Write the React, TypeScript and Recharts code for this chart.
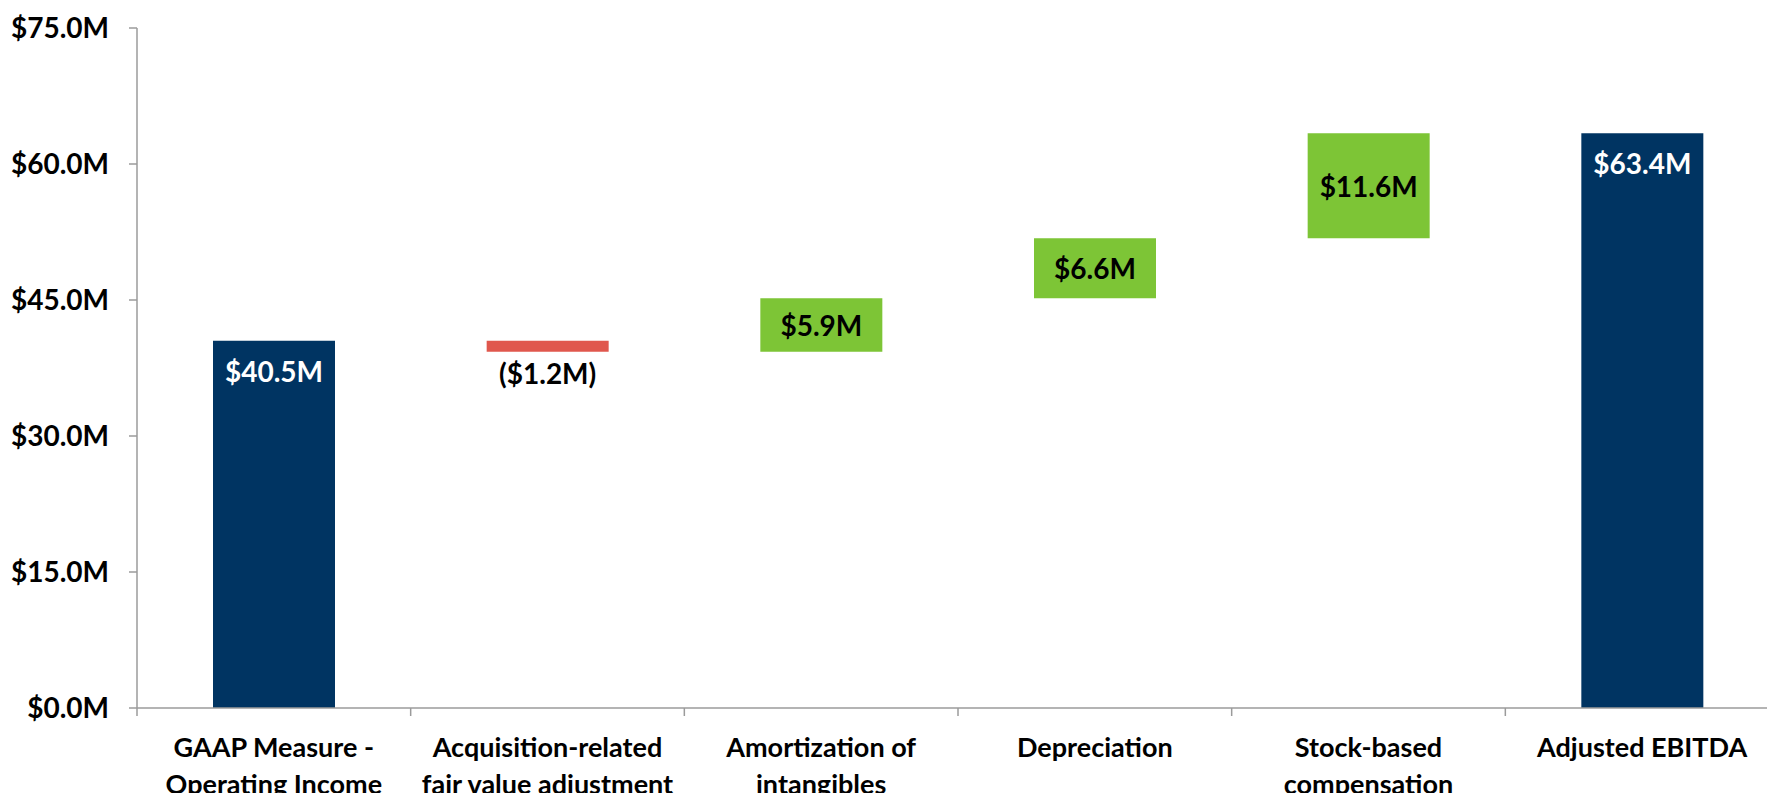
import { BarChart, Bar, XAxis, YAxis, Cell, LabelList } from 'recharts'

// Operating income to Adjusted EBITDA bridge, $M
const categories = [
  'GAAP Measure - Operating Income',
  'Acquisition-related fair value adjustment',
  'Amortization of intangibles',
  'Depreciation',
  'Stock-based compensation',
  'Adjusted EBITDA',
]

// how each category name breaks under the axis
const categoryLines = [
  ['GAAP Measure -', 'Operating Income'],
  ['Acquisition-related', 'fair value adjustment'],
  ['Amortization of', 'intangibles'],
  ['Depreciation'],
  ['Stock-based', 'compensation'],
  ['Adjusted EBITDA'],
]

const amounts = [40.5, -1.2, 5.9, 6.6, 11.6, 63.4]
const isTotal = [true, false, false, false, false, true]

const yTicks = [0, 15, 30, 45, 60, 75]

const NAVY = '#003462'
const GREEN = '#7DC536'
const RED = '#E0574D'
const AXIS = '#9B9B9B'
const FONT = 'Lato, "Open Sans", sans-serif'
const AXIS_Y = 708

// floating bars: transparent base + visible span
let running = 0
const data = categories.map((name, i) => {
  const v = amounts[i]
  if (isTotal[i]) {
    running = v
    return { name, base: 0, span: v, amount: v, kind: 'total' }
  }
  const base = v < 0 ? running + v : running
  running += v
  return { name, base, span: Math.abs(v), amount: v, kind: v < 0 ? 'down' : 'up' }
})

const money = (v: number) =>
  v < 0 ? `($${Math.abs(v).toFixed(1)}M)` : `$${v.toFixed(1)}M`

const spanColor = (kind: string) => (kind === 'total' ? NAVY : kind === 'up' ? GREEN : RED)

function BarValue(props: any) {
  const vb = props.viewBox ?? props
  const x = Number(vb.x ?? props.x)
  const y = Number(vb.y ?? props.y)
  const w = Number(vb.width ?? props.width)
  const h = Number(vb.height ?? props.height)
  const d = data[props.index]
  if (!d) return null
  let ty = y + h / 2
  let fill = '#000'
  if (d.kind === 'total') {
    ty = y + 30
    fill = '#fff'
  } else if (d.kind === 'down') {
    ty = y + h + 21
  }
  return (
    <text
      x={x + w / 2}
      y={ty}
      textAnchor="middle"
      dominantBaseline="central"
      fill={fill}
      fontFamily={FONT}
      fontWeight={700}
      fontSize={28}
    >
      {money(d.amount)}
    </text>
  )
}

function CategoryTick(props: any) {
  const { x, y, payload, index } = props
  const half = payload?.offset ?? 0
  const lines = categoryLines[index] ?? [payload.value]
  return (
    <g>
      <line x1={x - half} x2={x - half} y1={AXIS_Y} y2={AXIS_Y + 8} stroke={AXIS} strokeWidth={1.5} />
      <text
        x={x}
        y={y + 30}
        textAnchor="middle"
        dominantBaseline="central"
        fill="#000"
        fontFamily={FONT}
        fontWeight={700}
        fontSize={27}
      >
        {lines.map((l: string, i: number) => (
          <tspan key={i} x={x} dy={i === 0 ? 0 : 37}>
            {l}
          </tspan>
        ))}
      </text>
    </g>
  )
}

export default function App() {
  return (
    <div
      style={{
        position: 'fixed',
        left: 0,
        top: 0,
        width: 1767,
        height: 793,
        overflow: 'hidden',
        background: '#fff',
      }}
    >
      <BarChart
        width={1790}
        height={793}
        data={data}
        margin={{ top: 28, right: 11, left: 0, bottom: 0 }}
        barSize={122}
      >
        <XAxis
          dataKey="name"
          interval={0}
          height={85}
          tickLine={false}
          tickSize={8}
          tickMargin={0}
          axisLine={{ stroke: AXIS, strokeWidth: 1.5 }}
          tick={<CategoryTick />}
        />
        <YAxis
          width={137}
          domain={[0, 75]}
          ticks={yTicks}
          interval={0}
          tickSize={8}
          tickMargin={20}
          axisLine={{ stroke: AXIS, strokeWidth: 1.5 }}
          tickLine={{ stroke: AXIS, strokeWidth: 1.5 }}
          tickFormatter={(v: number) => `$${v.toFixed(1)}M`}
          tick={{ fill: '#000', fontFamily: FONT, fontWeight: 700, fontSize: 28 }}
        />
        <Bar dataKey="base" stackId="w" fill="transparent" isAnimationActive={false} />
        <Bar dataKey="span" stackId="w" isAnimationActive={false}>
          {data.map((d, i) => (
            <Cell key={i} fill={spanColor(d.kind)} />
          ))}
          <LabelList dataKey="amount" content={<BarValue />} />
        </Bar>
      </BarChart>
    </div>
  )
}
